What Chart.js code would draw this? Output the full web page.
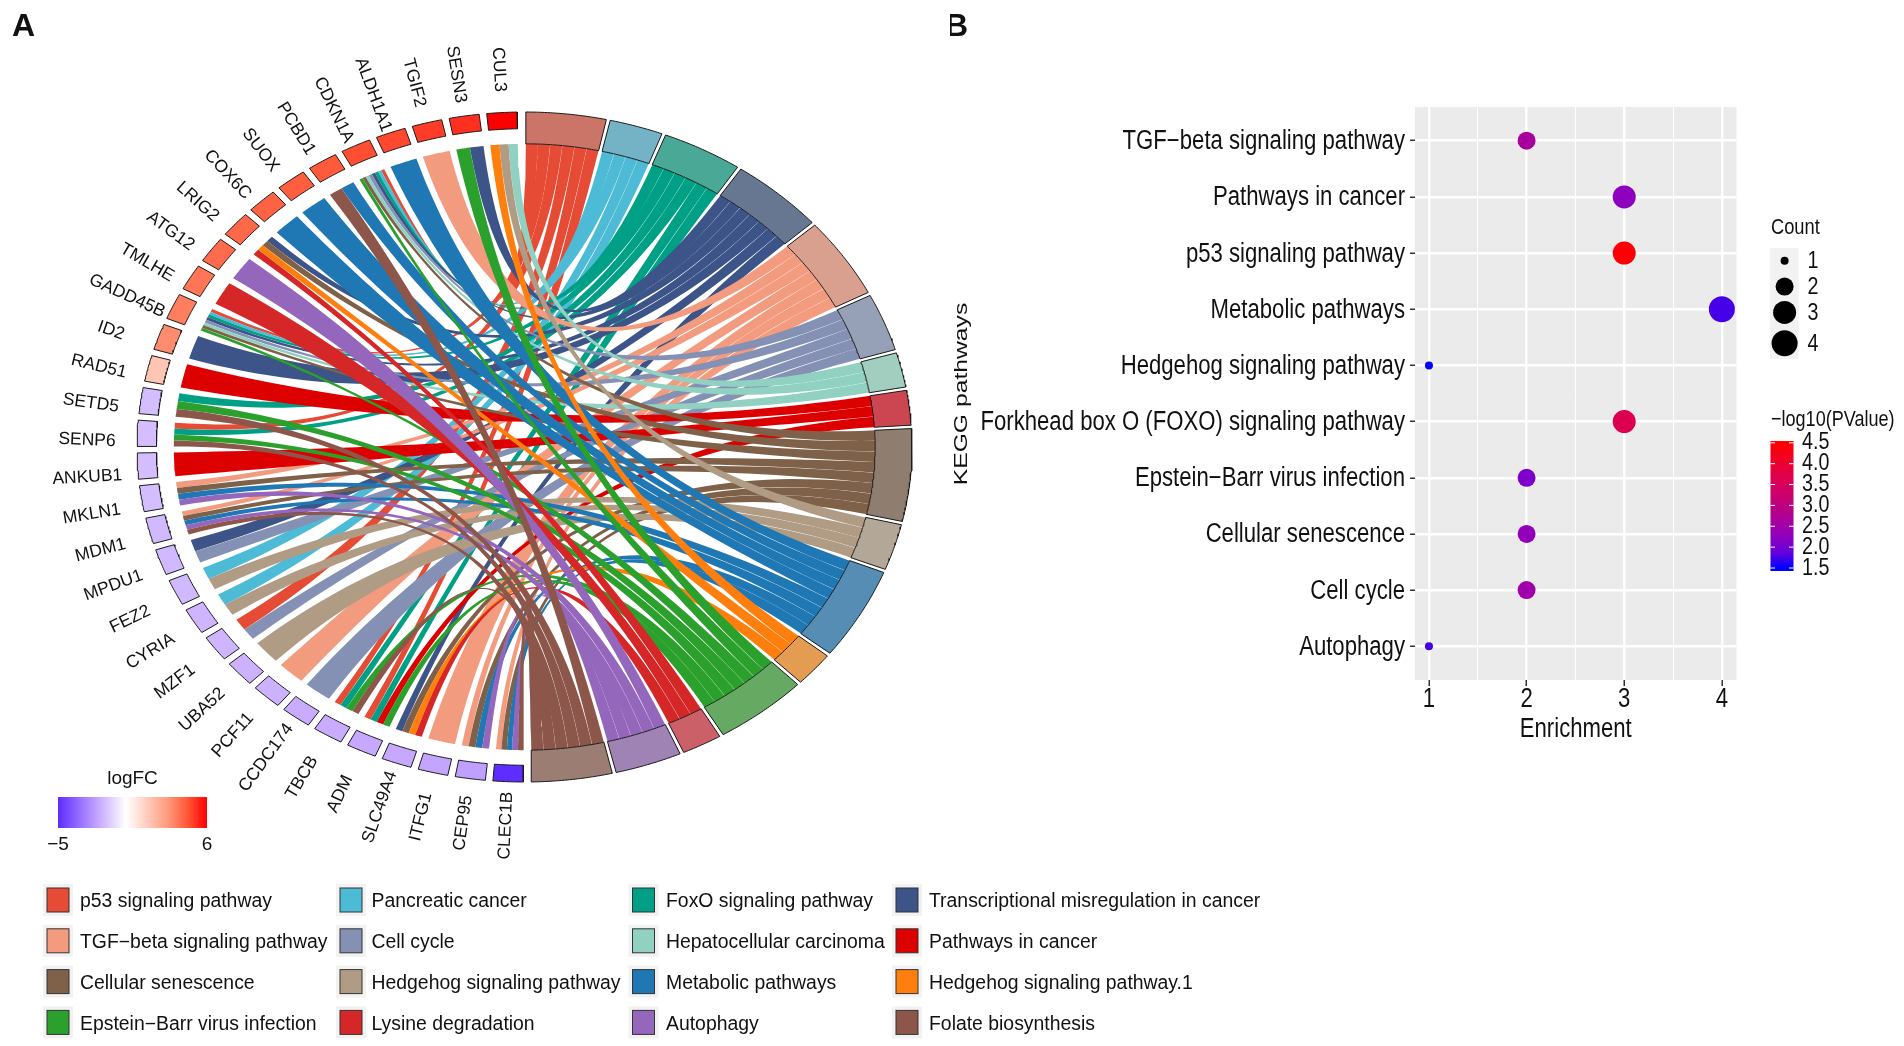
<!DOCTYPE html>
<html>
<head>
<meta charset="utf-8">
<title>KEGG chord and enrichment</title>
<style>
  body { margin: 0; background: #fff; }
  canvas { position: absolute; top: 0; }
  #chord { left: 0; }
  #dots { left: 950px; }
</style>
<script src="https://cdn.jsdelivr.net/npm/chart.js@4"></script>
</head>
<body>
<canvas id="chord" width="1904" height="1046"></canvas>
<canvas id="dots" width="954" height="1046"></canvas>
<script>
// === Panel A data ===
const genes = ['CUL3', 'SESN3', 'TGIF2', 'ALDH1A1', 'CDKN1A', 'PCBD1', 'SUOX', 'COX6C', 'LRIG2', 'ATG12', 'TMLHE',
  'GADD45B', 'ID2', 'RAD51', 'SETD5', 'SENP6', 'ANKUB1', 'MKLN1', 'MDM1', 'MPDU1', 'FEZ2', 'CYRIA', 'MZF1', 'UBA52',
  'PCF11', 'CCDC174', 'TBCB', 'ADM', 'SLC49A4', 'ITFG1', 'CEP95', 'CLEC1B'];
const logFC = [6, 5.2, 5, 4.8, 4.7, 4.5, 4.4, 4.3, 4.2, 4.1, 3.9, 3.7, 3.4, 1.8, -1.5, -1.5, -1.5, -1.5, -1.6, -1.6,
  -1.6, -1.7, -1.7, -1.8, -1.8, -1.9, -1.9, -2, -2, -2.1, -2.2, -5];
const pathways = ['p53 signaling pathway', 'Pancreatic cancer', 'FoxO signaling pathway',
  'Transcriptional misregulation in cancer', 'TGF−beta signaling pathway', 'Cell cycle', 'Hepatocellular carcinoma',
  'Pathways in cancer', 'Cellular senescence', 'Hedgehog signaling pathway', 'Metabolic pathways',
  'Hedgehog signaling pathway.1', 'Epstein−Barr virus infection', 'Lysine degradation', 'Autophagy',
  'Folate biosynthesis'];
// index into pathways, one list per gene
const genePathways = [[6, 9, 11], [3, 12], [4], [10], [0, 1, 2, 3, 5, 6, 8, 12], [10, 15], [10], [10], [3, 8, 11, 13],
  [14], [13], [0, 1, 2, 3, 5, 6, 8, 12], [3], [7], [2, 12, 15], [0, 2, 12, 15], [7], [4, 8, 10, 14],
  [4, 8, 10, 14, 15], [3, 5], [1, 9], [1, 9], [0, 5], [9], [4], [5], [0, 2, 12, 15], [0, 2, 7, 12], [3, 8, 11, 13],
  [4], [4, 8, 10, 14], [4, 8, 10, 14, 15]];

const ribbonColors = ['#E64B35', '#4DBBD5', '#00A087', '#3C5488', '#F39B7F', '#8491B4', '#91D1C2', '#DC0000', '#7E6148',
  '#B09C85', '#1F77B4', '#FF7F0E', '#2CA02C', '#D62728', '#9467BD', '#8C564B'];
const sectorColors = ['#CB7468', '#74B3C5', '#4AA897', '#677691', '#D9A08F', '#96A0B6', '#A1CEBF', '#CC4651', '#8F7E70',
  '#B3A797', '#558DB4', '#E49B52', '#65A962', '#CB6068', '#9F83B5', '#9B7D74'];
const logFCStops = [[-5, '#5E2DFF'], [-2, '#C6A8FF'], [0, '#FFFFFF'], [3, '#FF9E81'], [4.5, '#FF5A3A'], [6, '#FF0000']];

// === Panel B data ===
const keggPathways = ['TGF−beta signaling pathway', 'Pathways in cancer', 'p53 signaling pathway', 'Metabolic pathways',
  'Hedgehog signaling pathway', 'Forkhead box O (FOXO) signaling pathway', 'Epstein−Barr virus infection',
  'Cellular senescence', 'Cell cycle', 'Autophagy'];
const enrichment = [2, 3, 3, 4, 1, 3, 2, 2, 2, 1];
const counts = [2, 3, 3, 4, 1, 3, 2, 2, 2, 1];
const minusLog10P = [2.65, 2.25, 4.45, 1.75, 1.5, 3.65, 2.1, 2.3, 2.5, 1.75];
const countKeys = [1, 2, 3, 4];
const pValueTicks = [4.5, 4, 3.5, 3, 2.5, 2, 1.5];
const pValueStops = [[1.5, '#0000FF'], [1.86, '#6500DD'], [2.25, '#8F00BE'], [3, '#BE007E'], [3.75, '#E10048'], [4.5, '#FF0000']];

// === Layout constants ===
const SANS = '"Liberation Sans", Arial, sans-serif';
const CENTER_X = 524.5;
const CENTER_Y = 447;
const RADIUS_X = 387.5;
const RADIUS_Y = 335;
const R_INNER = 0.905;
const R_GENE = 0.95;
const R_LABEL = 1.13;
const RIBBON_UNIT = 2;
const SECTOR_GAP = 0.58;
const SECTOR_START = 0.2;
const GENE_WIDTH = 4.5;
const GENE_GAP = 1.12;
const GENE_START = 358.9;
const COUNT_RADIUS = [4, 9, 11.5, 13];
const NARROW_RATIO = 0.82;

// === Helpers ===
function hexToRgb(hex) {
  return [1, 3, 5].map(i => parseInt(hex.substr(i, 2), 16));
}

function colorFromStops(stops, value) {
  if (value <= stops[0][0]) return stops[0][1];
  for (let i = 1; i < stops.length; i++) {
    if (value <= stops[i][0]) {
      const t = (value - stops[i - 1][0]) / (stops[i][0] - stops[i - 1][0]);
      const a = hexToRgb(stops[i - 1][1]);
      const b = hexToRgb(stops[i][1]);
      return 'rgb(' + a.map((c, k) => Math.round(c + (b[k] - c) * t)).join(',') + ')';
    }
  }
  return stops[stops.length - 1][1];
}

function polar(angle, radius) {
  const rad = angle * Math.PI / 180;
  return { x: radius * Math.sin(rad), y: radius * Math.cos(rad) };
}

function arc(from, to, radius) {
  const steps = Math.max(2, Math.ceil(Math.abs(to - from) / 0.4));
  const points = [];
  for (let i = 0; i <= steps; i++) points.push(polar(from + (to - from) * i / steps, radius));
  return points;
}

// GOChord style curve: quadratic with its control point on the centre
function curve(start, end) {
  const points = [];
  for (let t = 0; t <= 1.0001; t += 0.02) {
    const a = (1 - t) * (1 - t);
    const b = t * t;
    points.push({ x: a * start.x + b * end.x, y: a * start.y + b * end.y });
  }
  return points;
}

function ribbonPoints(a0, a1, b0, b1) {
  return [
    ...curve(polar(a0, R_INNER), polar(b1, R_INNER)),
    ...arc(b1, b0, R_INNER),
    ...curve(polar(b0, R_INNER), polar(a1, R_INNER)),
    ...arc(a1, a0, R_INNER),
  ];
}

function bandPoints(from, to, inner, outer) {
  const points = [...arc(from, to, outer), ...arc(to, from, inner)];
  points.push(points[0]);
  return points;
}

function polygonDataset(data, fillColor, borderWidth) {
  return {
    data,
    showLine: true,
    fill: 'shape',
    backgroundColor: fillColor,
    borderColor: '#1a1a1a',
    borderWidth,
    pointRadius: 0,
    tension: 0,
  };
}

// === Chord datasets, built from genePathways ===
function pathwayCounts() {
  return pathways.map((_, p) => genePathways.filter(list => list.includes(p)).length);
}

function geneSlot(i) {
  const end = GENE_START - i * (GENE_WIDTH + GENE_GAP);
  return [end - GENE_WIDTH, end];
}

function buildChordDatasets() {
  const sizes = pathwayCounts();
  const starts = [];
  let angle = SECTOR_START;
  sizes.forEach(size => {
    starts.push(angle);
    angle += size * RIBBON_UNIT + SECTOR_GAP;
  });

  const ribbonsByPathway = pathways.map(() => []);
  const used = pathways.map(() => 0);
  genePathways.forEach((list, i) => {
    const [low, high] = geneSlot(i);
    const part = (high - low) / list.length;
    list.forEach((p, j) => {
      const a0 = starts[p] + used[p] * RIBBON_UNIT + 0.015;
      const a1 = a0 + RIBBON_UNIT - 0.03;
      used[p]++;
      ribbonsByPathway[p].push(polygonDataset(
        ribbonPoints(a0, a1, high - (j + 1) * part, high - j * part), ribbonColors[p], 0));
    });
  });

  const datasets = ribbonsByPathway.flat();
  sizes.forEach((size, p) => {
    datasets.push(polygonDataset(bandPoints(starts[p], starts[p] + size * RIBBON_UNIT, R_INNER, 1), sectorColors[p], 1));
  });
  genes.forEach((_, i) => {
    const [low, high] = geneSlot(i);
    datasets.push(polygonDataset(bandPoints(low, high, R_GENE, 1), colorFromStops(logFCStops, logFC[i]), 1));
  });
  // chart.js paints the first dataset last
  return datasets.reverse();
}

function drawText(ctx, text, x, y, font, align = 'left', color = '#111') {
  ctx.font = font;
  ctx.textAlign = align;
  ctx.textBaseline = 'middle';
  ctx.fillStyle = color;
  ctx.fillText(text, x, y);
}

// the narrow look of panel B: no condensed face is installed, so squeeze the regular one
function drawNarrow(ctx, text, x, y, size, align = 'left') {
  ctx.save();
  ctx.translate(x, y);
  ctx.scale(NARROW_RATIO, 1);
  drawText(ctx, text, 0, 0, size + 'px ' + SANS, align);
  ctx.restore();
}

// === Panel A texts and legends ===
const chordExtras = {
  id: 'chordExtras',
  afterDraw(chart) {
    const { ctx, scales } = chart;
    ctx.save();
    drawText(ctx, 'A', 12, 27, 'bold 32px ' + SANS);

    // labels are centred on a wider ellipse, so short names sit further from the ring
    genes.forEach((gene, i) => {
      const [low, high] = geneSlot(i);
      const mid = (low + high) / 2;
      const rad = mid * Math.PI / 180;
      const x = scales.x.getPixelForValue(R_LABEL * Math.sin(rad));
      const y = scales.y.getPixelForValue(R_LABEL * Math.cos(rad) - 0.026 * Math.abs(Math.sin(rad)));
      ctx.save();
      ctx.translate(x, y);
      ctx.rotate(Math.atan2(Math.cos(rad), -Math.sin(rad)));
      drawText(ctx, gene, 0, 0, '17.5px ' + SANS, 'center');
      ctx.restore();
    });

    // logFC bar
    const bar = ctx.createLinearGradient(58, 0, 207, 0);
    logFCStops.forEach(([value, color]) => bar.addColorStop((value + 5) / 11, color));
    ctx.fillStyle = bar;
    ctx.fillRect(58, 797, 149, 31);
    drawText(ctx, 'logFC', 132.5, 779, '19px ' + SANS, 'center');
    drawText(ctx, '−5', 58, 845, '19px ' + SANS, 'center');
    drawText(ctx, '6', 207, 845, '19px ' + SANS, 'center');

    // pathway legend
    const columnX = [43, 336, 628.5, 892];
    const textX = [80, 371.5, 666, 929];
    pathways.forEach((name, i) => {
      const col = i % 4;
      const rowY = 900 + Math.floor(i / 4) * 40.8;
      ctx.fillStyle = '#F2F2F2';
      ctx.fillRect(columnX[col], rowY - 16, 30, 32);
      ctx.fillStyle = ribbonColors[i];
      ctx.strokeStyle = '#333';
      ctx.lineWidth = 1;
      ctx.fillRect(columnX[col] + 4, rowY - 12, 22, 24);
      ctx.strokeRect(columnX[col] + 4, rowY - 12, 22, 24);
      drawText(ctx, name, textX[col], rowY + 2, '19.4px ' + SANS);
    });
    ctx.restore();
  },
};

new Chart(document.getElementById('chord'), {
  type: 'scatter',
  data: { datasets: buildChordDatasets() },
  options: {
    responsive: false,
    animation: false,
    events: [],
    layout: { padding: 0 },
    plugins: { legend: { display: false }, tooltip: { enabled: false } },
    scales: {
      x: { display: false, min: -CENTER_X / RADIUS_X, max: (1904 - CENTER_X) / RADIUS_X },
      y: { display: false, min: -(1046 - CENTER_Y) / RADIUS_Y, max: CENTER_Y / RADIUS_Y },
    },
  },
  plugins: [chordExtras],
});

// === Panel B ===
const dotExtras = {
  id: 'dotExtras',
  beforeDraw(chart) {
    const { ctx, chartArea } = chart;
    ctx.fillStyle = '#EBEBEB';
    ctx.fillRect(chartArea.left, chartArea.top, chartArea.width, chartArea.height);
  },
  afterDraw(chart) {
    const { ctx, scales, chartArea } = chart;
    ctx.save();
    drawText(ctx, 'B', -5, 27, 'bold 32px ' + SANS);

    // axis labels
    keggPathways.forEach((name, i) => {
      drawNarrow(ctx, name, chartArea.left - 10, scales.y.getPixelForValue(i) + 1, 27, 'right');
    });
    [1, 2, 3, 4].forEach(v => {
      drawNarrow(ctx, String(v), scales.x.getPixelForValue(v), 700, 27, 'center');
    });
    drawNarrow(ctx, 'Enrichment', (chartArea.left + chartArea.right) / 2, 730, 27, 'center');

    // y axis title, stretched along the text
    ctx.save();
    ctx.translate(12, 394);
    ctx.rotate(-Math.PI / 2);
    ctx.scale(1.3, 1);
    drawText(ctx, 'KEGG pathways', 0, 0, '19px ' + SANS, 'center');
    ctx.restore();

    // count key
    drawNarrow(ctx, 'Count', 821, 228, 22.3);
    ctx.fillStyle = '#F2F2F2';
    ctx.fillRect(820, 248, 28.5, 111);
    const keyY = [260.7, 286.6, 312.4, 343.3];
    countKeys.forEach((key, i) => {
      ctx.fillStyle = '#000';
      ctx.beginPath();
      ctx.arc(834.6, keyY[i], COUNT_RADIUS[i], 0, Math.PI * 2);
      ctx.fill();
      drawNarrow(ctx, String(key), 863, keyY[i] + 1, 24, 'center');
    });

    // p value bar
    drawNarrow(ctx, '−log10(PValue)', 821, 420, 22);
    const top = 441;
    const bottom = 571;
    const toY = value => 568 - (value - 1.5) * (568 - 442.8) / 3;
    const bar = ctx.createLinearGradient(0, toY(1.5), 0, toY(4.5));
    pValueStops.forEach(([value, color]) => bar.addColorStop((value - 1.5) / 3, color));
    ctx.fillStyle = bar;
    ctx.fillRect(820.5, top, 23, bottom - top);
    pValueTicks.forEach(value => {
      const y = toY(value);
      ctx.strokeStyle = '#fff';
      ctx.lineWidth = 1;
      ctx.beginPath();
      ctx.moveTo(820.5, y); ctx.lineTo(825, y);
      ctx.moveTo(839, y); ctx.lineTo(843.5, y);
      ctx.stroke();
      drawNarrow(ctx, value.toFixed(1), 852, y, 24);
    });
    ctx.restore();
  },
};

new Chart(document.getElementById('dots'), {
  type: 'scatter',
  data: {
    datasets: [{
      data: enrichment.map((x, i) => ({ x, y: i })),
      pointRadius: counts.map(c => COUNT_RADIUS[c - 1]),
      pointBackgroundColor: minusLog10P.map(v => colorFromStops(pValueStops, v)),
      pointBorderWidth: 0,
    }],
  },
  options: {
    responsive: false,
    animation: false,
    events: [],
    layout: { padding: { left: 0, top: 107, right: 167.5, bottom: 300 } },
    plugins: { legend: { display: false }, tooltip: { enabled: false } },
    scales: {
      x: {
        min: 0.857,
        max: 4.15,
        border: { display: false },
        afterFit: scale => { scale.height = 66; },
        grid: {
          color: '#fff',
          lineWidth: c => (Number.isInteger(c.tick.value) ? 2.5 : 1),
          tickColor: c => (Number.isInteger(c.tick.value) ? '#333' : 'rgba(0,0,0,0)'),
          tickWidth: 1.5,
          tickLength: 6,
        },
        ticks: { stepSize: 0.5, includeBounds: false, autoSkip: false, maxRotation: 0, display: false },
      },
      y: {
        reverse: true,
        min: -0.6,
        max: 9.6,
        border: { display: false },
        afterFit: scale => { scale.width = 465; },
        grid: { color: '#fff', lineWidth: 2.5, tickColor: '#333', tickWidth: 1.5, tickLength: 5 },
        ticks: { stepSize: 1, includeBounds: false, autoSkip: false, display: false },
      },
    },
  },
  plugins: [dotExtras],
});
</script>
</body>
</html>
